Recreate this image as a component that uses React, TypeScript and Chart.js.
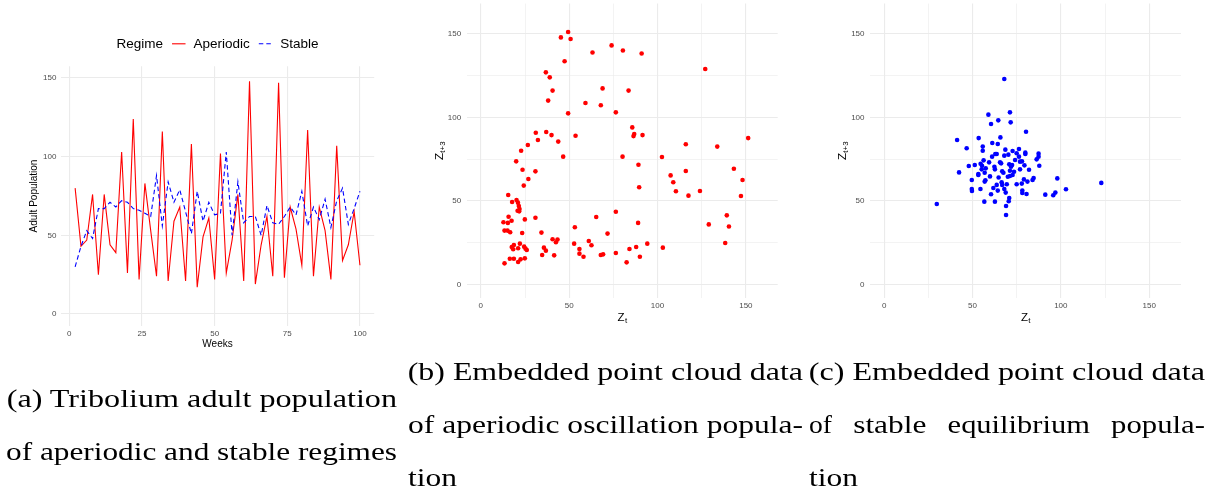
import React, { useEffect, useRef } from 'react';
import { Chart, registerables } from 'chart.js';

Chart.register(...registerables);

// ---------- Panel (a): weekly adult population ----------
const weeks = [2, 4, 6, 8, 10, 12, 14, 16, 18, 20, 22, 24, 26, 28, 30, 32, 34, 36, 38, 40, 42, 44, 46, 48, 50, 52, 54, 56, 58, 60, 62, 64, 66, 68, 70, 72, 74, 76, 78, 80, 82, 84, 86, 88, 90, 92, 94, 96, 98, 100];
const aperiodic = [80, 43, 47, 76, 25, 76, 44, 39, 103, 26, 124, 22, 83, 53, 24, 116, 21, 59, 68, 21, 108, 17, 49, 61, 22, 102, 26, 47, 76, 21, 148, 19, 44, 62, 24, 147, 23, 68, 54, 31, 117, 24, 68, 53, 22, 107, 34, 44, 65, 31];
const stable = [30, 43, 53, 48, 67, 67, 71, 68, 72, 71, 67, 66, 64, 62, 88, 56, 84, 71, 79, 65, 51, 78, 59, 71, 63, 64, 103, 50, 84, 58, 62, 62, 50, 69, 58, 57, 62, 68, 63, 78, 56, 68, 60, 73, 55, 72, 80, 57, 67, 78];
const weekTicks = [0, 25, 50, 75, 100];
const populationTicks = [0, 50, 100, 150];

// ---------- Panel (b): embedded aperiodic point cloud ----------
const aperiodicZt = [49.4, 45.3, 50.8, 47.4, 74, 63.2, 80.4, 91, 127, 36.8, 39, 40.6, 38.1, 68.9, 83.6, 59.2, 67.9, 76.4, 49.4, 31.1, 37, 40, 32.3, 43.8, 26.6, 53.6, 22.8, 46.6, 20, 23.6, 30.9, 26.9, 24.3, 85.7, 86.4, 86.8, 91.5, 80.2, 89.2, 89.6, 102.5, 107.4, 108.9, 110.4, 116, 116, 117.5, 124, 133.8, 143.2, 148.1, 151.3, 147.2, 129, 139.2, 140.4, 138.3, 15.5, 17.7, 20.2, 21, 21.5, 21.9, 20.8, 21.7, 15.7, 24.9, 30.9, 12.8, 15.3, 17.4, 13.4, 15.1, 16.6, 23.4, 34.3, 40.6, 43.4, 42.5, 18.7, 17.5, 18.3, 21.1, 22.1, 24.5, 25.3, 26, 35.7, 36.8, 34.7, 41.5, 16.4, 18.7, 22.5, 24.9, 13.4, 21.1, 53.2, 52.8, 55.8, 55.8, 58.1, 61.1, 62.6, 65.3, 71.7, 67.9, 69.2, 76.4, 76.4, 82.5, 84.1, 87.9, 89, 90, 94.2, 103];
const aperiodicZt3 = [151, 147.8, 146.8, 133.5, 143, 138.8, 140, 138.2, 128.9, 126.9, 123.9, 116, 110, 117.3, 116, 108.6, 107.2, 103, 102.4, 90.8, 91.2, 89.4, 86.5, 85.5, 83.5, 89, 80, 76.5, 73.7, 68.7, 67.7, 63.1, 59.2, 94, 88.8, 90, 89.4, 76.5, 71.7, 58.2, 76.3, 65.3, 61.2, 55.8, 83.9, 67.9, 53.2, 56, 82.5, 69.3, 62.5, 87.6, 53, 36, 41.4, 34.7, 24.9, 53.6, 49.4, 50.6, 49, 47, 45.2, 44.2, 43.8, 40.6, 39, 40, 37.3, 36.9, 38.2, 32.3, 32.3, 31.3, 30.9, 31.1, 27.1, 26.9, 25.3, 23.7, 22.5, 21.1, 21.7, 24.5, 22.7, 21.5, 20.7, 22.1, 20.3, 17.7, 17.5, 15.5, 15.5, 15.1, 15.7, 12.7, 13.5, 34.3, 24.5, 21.3, 18.5, 16.7, 26.1, 23.5, 40.4, 30.5, 17.7, 18.1, 43.6, 18.9, 13.3, 21.3, 22.5, 36.9, 16.7, 24.5, 22.1];

// ---------- Panel (c): embedded stable point cloud ----------
const stableZt = [68, 71.2, 59, 64.6, 60.5, 71.6, 80.3, 41.3, 53.5, 65.8, 46.7, 55.8, 55.8, 61.2, 64.3, 68.6, 76.3, 72.7, 79.9, 79.9, 87.4, 87.4, 86.3, 87.8, 42.4, 47.9, 51.3, 49.6, 49.6, 49.7, 54.5, 29.8, 56.7, 62.7, 69, 69, 70.5, 70.8, 60.5, 61.8, 64.3, 68, 68.8, 69.4, 66.5, 64.8, 63.7, 57.3, 56.9, 53.3, 53.3, 55.2, 55.4, 56.3, 54.6, 59.4, 61.1, 62.9, 62.4, 62.7, 59.9, 65.6, 66.2, 66.8, 67.5, 70.3, 70.8, 71.2, 71.8, 72.7, 73.5, 74.1, 72.4, 75, 76.9, 76.9, 78, 79.4, 82, 75, 77.9, 79.1, 81.1, 84, 84.6, 78.2, 78.2, 80.6, 91.2, 95.7, 96.9, 98, 102.9, 122.9, 57.5, 70, 71.2, 66.8, 56.9, 68, 63.7, 76.3];
const stableZt3 = [122.9, 103, 101.6, 98.2, 96, 97, 91.4, 86.5, 87.6, 88, 81.5, 82.5, 80, 84.7, 84.1, 80.7, 81.1, 79.9, 78.9, 78.1, 78.3, 76.5, 74.9, 71.1, 67.1, 70.9, 71.5, 62.5, 57.2, 56, 57.2, 48.2, 49.6, 49.6, 47, 41.6, 49.8, 51.8, 54, 57.8, 56.2, 57.2, 55, 60, 61.2, 64, 59.6, 62.4, 61.6, 66.1, 65.5, 68.9, 71.1, 74.3, 72.3, 73.1, 76.5, 78.1, 70.5, 68.9, 64.7, 73.1, 72.5, 67.7, 66.9, 77.7, 71.9, 68.1, 70.5, 65.5, 67.5, 74.5, 71.5, 78.5, 73.5, 68.9, 73.7, 71.3, 68.7, 60, 60.4, 62.9, 61.6, 62.5, 63.7, 56.2, 54.8, 54.2, 53.8, 53.4, 55, 63.5, 57, 60.8, 69.5, 64.5, 64.9, 59.6, 66.9, 77.1, 78.1, 76.5];
const cloudTicks = [0, 25, 50, 75, 100, 125, 150];

const SANS = '"Liberation Sans", Arial, Helvetica, sans-serif';
const GRID = '#ebebeb';
const TICK_COLOR = '#4d4d4d';

function drawSubscripted(ctx: CanvasRenderingContext2D, main: string, sub: string, cx: number, cy: number) {
  ctx.font = `11.5px ${SANS}`;
  const w1 = ctx.measureText(main).width;
  ctx.font = `8px ${SANS}`;
  const w2 = ctx.measureText(sub).width;
  const x0 = cx - (w1 + w2) / 2;
  const base = cy + 4.2;
  ctx.fillStyle = '#000';
  ctx.textAlign = 'left';
  ctx.textBaseline = 'alphabetic';
  ctx.font = `11.5px ${SANS}`;
  ctx.fillText(main, x0, base);
  ctx.font = `8px ${SANS}`;
  ctx.fillText(sub, x0 + w1 + 0.3, base + 2.4);
}

const zTitlePlugin = {
  id: 'zTitles',
  afterDraw(chart: any) {
    const { ctx, chartArea: ca } = chart;
    const cx = (ca.left + ca.right) / 2;
    const cy = (ca.top + ca.bottom) / 2;
    ctx.save();
    drawSubscripted(ctx, 'Z', 't', cx, ca.bottom + 18.5);
    ctx.translate(ca.left - 28.4, cy);
    ctx.rotate(-Math.PI / 2);
    drawSubscripted(ctx, 'Z', 't+3', 0, 0);
    ctx.restore();
  },
};

const legendPlugin = {
  id: 'ggLegend',
  afterDraw(chart: any) {
    const ctx: CanvasRenderingContext2D = chart.ctx;
    ctx.save();
    ctx.font = `13.5px ${SANS}`;
    ctx.textBaseline = 'middle';
    ctx.textAlign = 'left';
    ctx.fillStyle = '#000';
    const y = 43.8;
    const keyW = 13.5;
    const gapA = 9;
    const gapB = 8;
    const items = [
      { label: 'Aperiodic', color: '#ff0000', dash: [] as number[] },
      { label: 'Stable', color: '#0000ff', dash: [4.5, 3] },
    ];
    const wTitle = ctx.measureText('Regime').width;
    let total = wTitle;
    items.forEach((it) => { total += gapA + keyW + gapB + ctx.measureText(it.label).width; });
    const center = (chart.chartArea.left + chart.chartArea.right) / 2;
    let x = center - total / 2;
    ctx.fillText('Regime', x, y);
    x += wTitle;
    items.forEach((it) => {
      x += gapA;
      ctx.strokeStyle = it.color;
      ctx.lineWidth = 1.1;
      ctx.setLineDash(it.dash);
      ctx.beginPath();
      ctx.moveTo(x, y);
      ctx.lineTo(x + keyW, y);
      ctx.stroke();
      ctx.setLineDash([]);
      x += keyW + gapB;
      ctx.fillText(it.label, x, y);
      x += ctx.measureText(it.label).width;
    });
    ctx.restore();
  },
};

function tickSetter(values: number[]) {
  return (scale: any) => {
    scale.ticks = values.map((v) => ({ value: v }));
  };
}

function cloudScales(yWidth: number) {
  const label = (v: any) => (Number(v) % 50 === 0 ? String(v) : '');
  const lw = (c: any) => (c.tick && c.tick.value % 50 === 0 ? 1.1 : 0.6);
  return {
    x: {
      type: 'linear' as const,
      min: -8,
      max: 168,
      afterBuildTicks: tickSetter(cloudTicks),
      afterFit: (s: any) => { s.height = 32; },
      grid: { color: GRID, lineWidth: lw, drawTicks: false },
      border: { display: false },
      ticks: { font: { family: SANS, size: 8 }, color: TICK_COLOR, padding: 3, maxRotation: 0, autoSkip: false, callback: label },
    },
    y: {
      type: 'linear' as const,
      min: -8,
      max: 168,
      afterBuildTicks: tickSetter(cloudTicks),
      afterFit: (s: any) => { s.width = yWidth; },
      grid: { color: GRID, lineWidth: lw, drawTicks: false },
      border: { display: false },
      ticks: { font: { family: SANS, size: 8 }, color: TICK_COLOR, padding: 5.5, autoSkip: false, callback: label },
    },
  };
}

export default function App() {
  const refA = useRef<HTMLCanvasElement>(null);
  const refB = useRef<HTMLCanvasElement>(null);
  const refC = useRef<HTMLCanvasElement>(null);

  useEffect(() => {
    const charts: Chart[] = [];

    charts.push(new Chart(refA.current!, {
      type: 'line',
      data: {
        datasets: [
          {
            label: 'Stable',
            data: weeks.map((w, i) => ({ x: w, y: stable[i] })),
            borderColor: '#0000ff',
            borderWidth: 1.1,
            borderDash: [4.5, 3],
            pointRadius: 0,
            tension: 0,
            fill: false,
          },
          {
            label: 'Aperiodic',
            data: weeks.map((w, i) => ({ x: w, y: aperiodic[i] })),
            borderColor: '#ff0000',
            borderWidth: 1.1,
            pointRadius: 0,
            tension: 0,
            fill: false,
          },
        ],
      },
      options: {
        animation: false,
        responsive: false,
        events: [],
        layout: { padding: { left: 0, top: 66.2, right: 25.8, bottom: 0 } },
        plugins: { legend: { display: false }, tooltip: { enabled: false } },
        scales: {
          x: {
            type: 'linear',
            min: -2.9,
            max: 104.9,
            afterBuildTicks: tickSetter(weekTicks),
            afterFit: (s: any) => { s.height = 34.2; },
            grid: { color: GRID, lineWidth: 1.1, drawTicks: false },
            border: { display: false },
            ticks: { font: { family: SANS, size: 8 }, color: TICK_COLOR, padding: 3.5, maxRotation: 0, autoSkip: false },
            title: { display: true, text: 'Weeks', color: '#000', font: { family: SANS, size: 10 }, padding: { top: 0, bottom: 10 } },
          },
          y: {
            type: 'linear',
            min: -7.5,
            max: 157.5,
            afterBuildTicks: tickSetter(populationTicks),
            afterFit: (s: any) => { s.width = 60.9; },
            grid: { color: GRID, lineWidth: 1.1, drawTicks: false },
            border: { display: false },
            ticks: { font: { family: SANS, size: 8 }, color: TICK_COLOR, padding: 4.5, autoSkip: false },
            title: { display: true, text: 'Adult Population', color: '#000', font: { family: SANS, size: 10 }, padding: { top: 28.3, bottom: 0 } },
          },
        },
      },
      plugins: [legendPlugin],
    } as any));

    charts.push(new Chart(refB.current!, {
      type: 'scatter',
      data: {
        datasets: [{
          label: 'Aperiodic',
          data: aperiodicZt.map((x, i) => ({ x, y: aperiodicZt3[i] })),
          backgroundColor: '#ff0000',
          borderWidth: 0,
          pointRadius: 2.3,
        }],
      },
      options: {
        animation: false,
        responsive: false,
        events: [],
        layout: { padding: { left: 0, top: 23.6, right: 22.3, bottom: 0 } },
        plugins: { legend: { display: false }, tooltip: { enabled: false } },
        scales: cloudScales(66.7),
      },
      plugins: [zTitlePlugin],
    } as any));

    charts.push(new Chart(refC.current!, {
      type: 'scatter',
      data: {
        datasets: [{
          label: 'Stable',
          data: stableZt.map((x, i) => ({ x, y: stableZt3[i] })),
          backgroundColor: '#0000ff',
          borderWidth: 0,
          pointRadius: 2.3,
        }],
      },
      options: {
        animation: false,
        responsive: false,
        events: [],
        layout: { padding: { left: 0, top: 23.6, right: 30, bottom: 0 } },
        plugins: { legend: { display: false }, tooltip: { enabled: false } },
        scales: cloudScales(70),
      },
      plugins: [zTitlePlugin],
    } as any));

    return () => { charts.forEach((c) => c.destroy()); };
  }, []);

  const serif = '"Liberation Serif", "Times New Roman", serif';
  const lines = [
    { t: '(a) Tribolium adult population', x: 6.7, y: 407, w: 390.3 },
    { t: 'of aperiodic and stable regimes', x: 6, y: 460, w: 391 },
    { t: '(b) Embedded point cloud data', x: 407.7, y: 380, w: 395.3 },
    { t: 'of aperiodic oscillation popula-', x: 408, y: 433, w: 395 },
    { t: 'tion', x: 408, y: 486, w: 49 },
    { t: '(c) Embedded point cloud data', x: 808.7, y: 380, w: 396.3 },
    { t: 'of', x: 809, y: 433, w: 23 },
    { t: 'stable', x: 853.2, y: 433, w: 73.2 },
    { t: 'equilibrium', x: 947.6, y: 433, w: 142.3 },
    { t: 'popula-', x: 1111.1, y: 433, w: 93.8 },
    { t: 'tion', x: 809, y: 486, w: 49 },
  ];

  return (
    <div style={{ position: 'absolute', left: 0, top: 0, width: 1211, height: 488, overflow: 'hidden', background: '#fff' }}>
      <canvas ref={refA} width={400} height={360} style={{ position: 'absolute', left: 0, top: 0, width: 400, height: 360 }} />
      <canvas ref={refB} width={400} height={350} style={{ position: 'absolute', left: 400, top: -20, width: 400, height: 350 }} />
      <canvas ref={refC} width={411} height={350} style={{ position: 'absolute', left: 800, top: -20, width: 411, height: 350 }} />
      <svg width={1211} height={488} style={{ position: 'absolute', left: 0, top: 0, pointerEvents: 'none' }}>
        {lines.map((l, i) => (
          <text key={i} x={l.x} y={l.y} textLength={l.w} lengthAdjust="spacingAndGlyphs" fontFamily={serif} fontSize={24.5} fill="#000">
            {l.t}
          </text>
        ))}
      </svg>
    </div>
  );
}
